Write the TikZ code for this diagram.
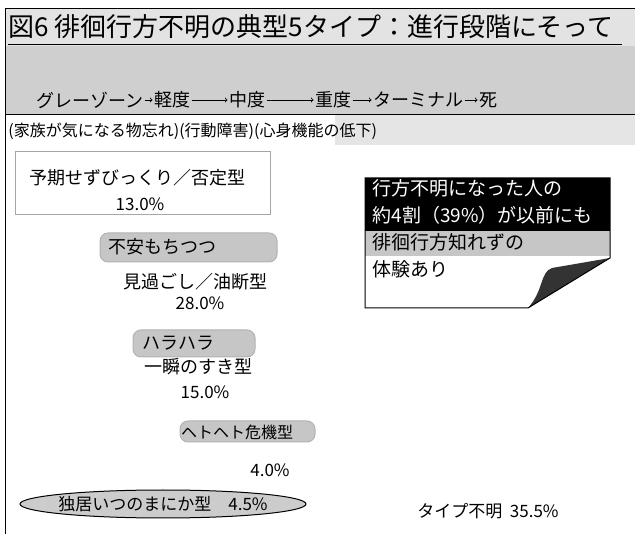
\documentclass[tikz,border=0pt]{standalone}
\usepackage{fontspec}
\setmainfont{Noto Sans CJK JP}
\usepackage{tikz}

\begin{document}
\begin{tikzpicture}[x = 1pt, y = -1pt, line width = 1pt,
                        label/.style = {inner sep = 0pt, font = \fontsize{18}{20}\selectfont},
                        stage/.style = {inner sep = 1pt, font = \fontsize{18}{20}\selectfont},
                        pct/.style = {inner sep = 0pt, font = \fontsize{17}{19}\selectfont},
                        blob/.style = {rounded corners = 8pt, fill = gray!45, draw = gray!60}]
    \useasboundingbox (0, 0) rectangle (635, 534);
    % header band
    \fill [gray!22] (5, 9) rectangle (635, 46);
    \fill [gray!38] (5, 46) rectangle (635, 115);
    \fill [gray!20] (335, 115) rectangle (635, 145);
    \draw (5, 9) -- (635, 9);
    \draw (5, 9) -- (5, 534);
    \draw (5, 115) -- (635, 115);
    \node [inner sep = 0pt, anchor = west, font = \fontsize{26}{28}\selectfont] (title) at (8, 27)
        {図6 徘徊行方不明の典型5タイプ：進行段階にそって};
    \draw (8, 45) -- (622, 45);
    % stages
    \node [stage] (gray) at (90, 100){グレーゾーン};
    \node [stage] (mild) at (172, 100){軽度};
    \node [stage] (mid) at (247, 100){中度};
    \node [stage] (severe) at (333, 100){重度};
    \node [stage] (term) at (418, 100){ターミナル};
    \node [stage] (death) at (488, 100){死};
    \draw [thick,->] (gray)--(mild);
    \draw [thick,->] (mild)--(mid);
    \draw [thick,->] (mid)--(severe);
    \draw [thick,->] (severe)--(term);
    \draw [thick,->] (term)--(death);
    \node [inner sep = 0pt, anchor = west, font = \fontsize{16}{18}\selectfont] (cause) at (8, 131)
        {(家族が気になる物忘れ)(行動障害)(心身機能の低下)};
    % types
    \draw [gray!70, fill = white] (15, 152) rectangle (270, 215);
    \node [label] (t1) at (138, 178){予期せずびっくり／否定型};
    \node [pct] (p1) at (140, 204){13.0\%};
    \draw [blob] (100, 233) rectangle (277, 262);
    \node [label, anchor = west] (t2a) at (108, 247){不安もちつつ};
    \node [label] (t2) at (195, 282){見過ごし／油断型};
    \node [pct] (p2) at (200, 303){28.0\%};
    \draw [blob] (133, 330) rectangle (255, 357);
    \node [label, anchor = west] (t3a) at (142, 343){ハラハラ};
    \node [label] (t3) at (198, 367){一瞬のすき型};
    \node [pct] (p3) at (205, 392){15.0\%};
    \draw [blob] (180, 421) rectangle (315, 442);
    \node [label, font = \fontsize{16}{18}\selectfont] (t4) at (237, 432){ヘトヘト危機型};
    \node [pct] (p4) at (270, 470){4.0\%};
    \draw [fill = gray!40] (163, 504) ellipse (143 and 14);
    \node [label, font = \fontsize{17}{19}\selectfont] (t5) at (163, 504){独居いつのまにか型\quad 4.5\%};
    \node [pct] (p6) at (488, 511){タイプ不明\ \ 35.5\%};
    % note with folded corner
    \fill [white] (365, 178) -- (610, 178) -- (610, 258) -- (528, 308) -- (365, 308) -- cycle;
    \fill [black] (365, 178) rectangle (610, 231);
    \fill [gray!45] (365, 231) rectangle (610, 256);
    \fill [black!80] (528, 308) .. controls (544, 290) and (540, 272) .. (552, 268) -- (610, 258) -- cycle;
    \draw (365, 178) -- (610, 178) -- (610, 258) -- (528, 308) -- (365, 308) -- cycle;
    \node [inner sep = 0pt, anchor = north west, align = left, font = \fontsize{19}{27}\selectfont] (note) at (372, 179)
        {\color{white}行方不明になった人の\\ \color{white}約4割（39\%）が以前にも\\ 徘徊行方知れずの\\ 体験あり};
  \end{tikzpicture}
\end{document}
